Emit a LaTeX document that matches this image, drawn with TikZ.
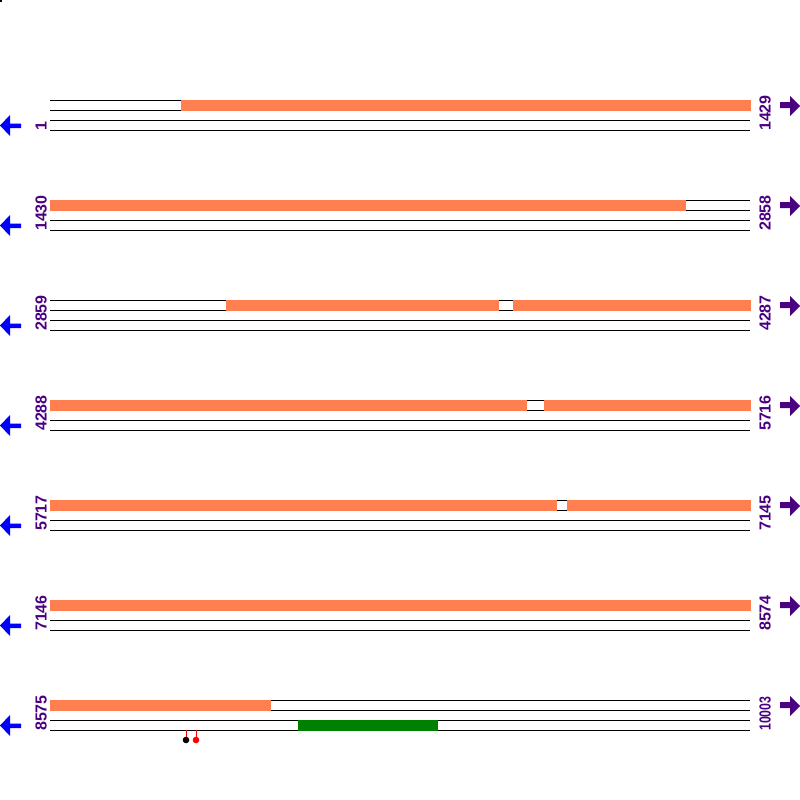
\documentclass[tikz,border=0pt]{standalone}
\usepackage{fontspec}
\setmainfont{Liberation Sans}
\definecolor{cdsorange}{RGB}{255,127,80}
\definecolor{featgreen}{RGB}{0,128,0}
\definecolor{posviolet}{RGB}{75,0,130}
\tikzset{
  strand/.style={line width=1pt,black},
  cds/.style={fill=cdsorange},
  feat/.style={fill=featgreen},
  poslabel/.style={posviolet,font=\bfseries\fontsize{16}{16}\selectfont,rotate=90,anchor=base west,inner sep=0pt},
  revarrow/.style={fill=blue},
  fwdarrow/.style={fill=posviolet},
  stick/.style={red,line width=1pt}
}
\begin{document}
\begin{tikzpicture}[x=1pt,y=-1pt]
\useasboundingbox (0,0) rectangle (800,800);
\fill (0,0) rectangle (2,2);
% strands, labels and arrows of each row
\foreach \y/\lft/\rgt/\sq in {100/1/1429/1,200/1430/2858/1,300/2859/4287/1,400/4288/5716/1,500/5717/7145/1,600/7146/8574/1,700/8575/10003/0.77} {
  \foreach \d in {0,10,20,30}
    \draw[strand] (50,\y+\d) -- (750,\y+\d);
  \node[poslabel] (l\y) at (46.5,\y+31) {\lft};
  \node[poslabel] (r\y) at (770.5,\y+31) {\addfontfeatures{FakeStretch=\sq}\rgt};
  \fill[revarrow] (21,\y+23.5) -- (10,\y+23.5) -- (10,\y+15) -- (0,\y+25.5) -- (10,\y+36) -- (10,\y+28) -- (21,\y+28) -- cycle;
  \fill[fwdarrow] (780,\y+2) -- (790,\y+2) -- (790,\y-4) -- (800,\y+6) -- (790,\y+16) -- (790,\y+8) -- (780,\y+8) -- cycle;
}
% coding segments
\foreach \y/\a/\b in {100/181/751,200/50/686,300/226/499,300/513/751,400/50/527,400/544/751,500/50/557,500/567/751,600/50/751,700/50/271}
  \fill[cds] (\a,\y-0.5) rectangle (\b,\y+10.5);
\fill[feat] (298,719.5) rectangle (438,730.5);
% sites
\draw[stick] (186,730) -- (186,740);
\draw[stick] (196,730) -- (196,740);
\fill[black] (186,740) circle (3.3);
\fill[red] (196,740) circle (3.3);
\end{tikzpicture}
\end{document}
